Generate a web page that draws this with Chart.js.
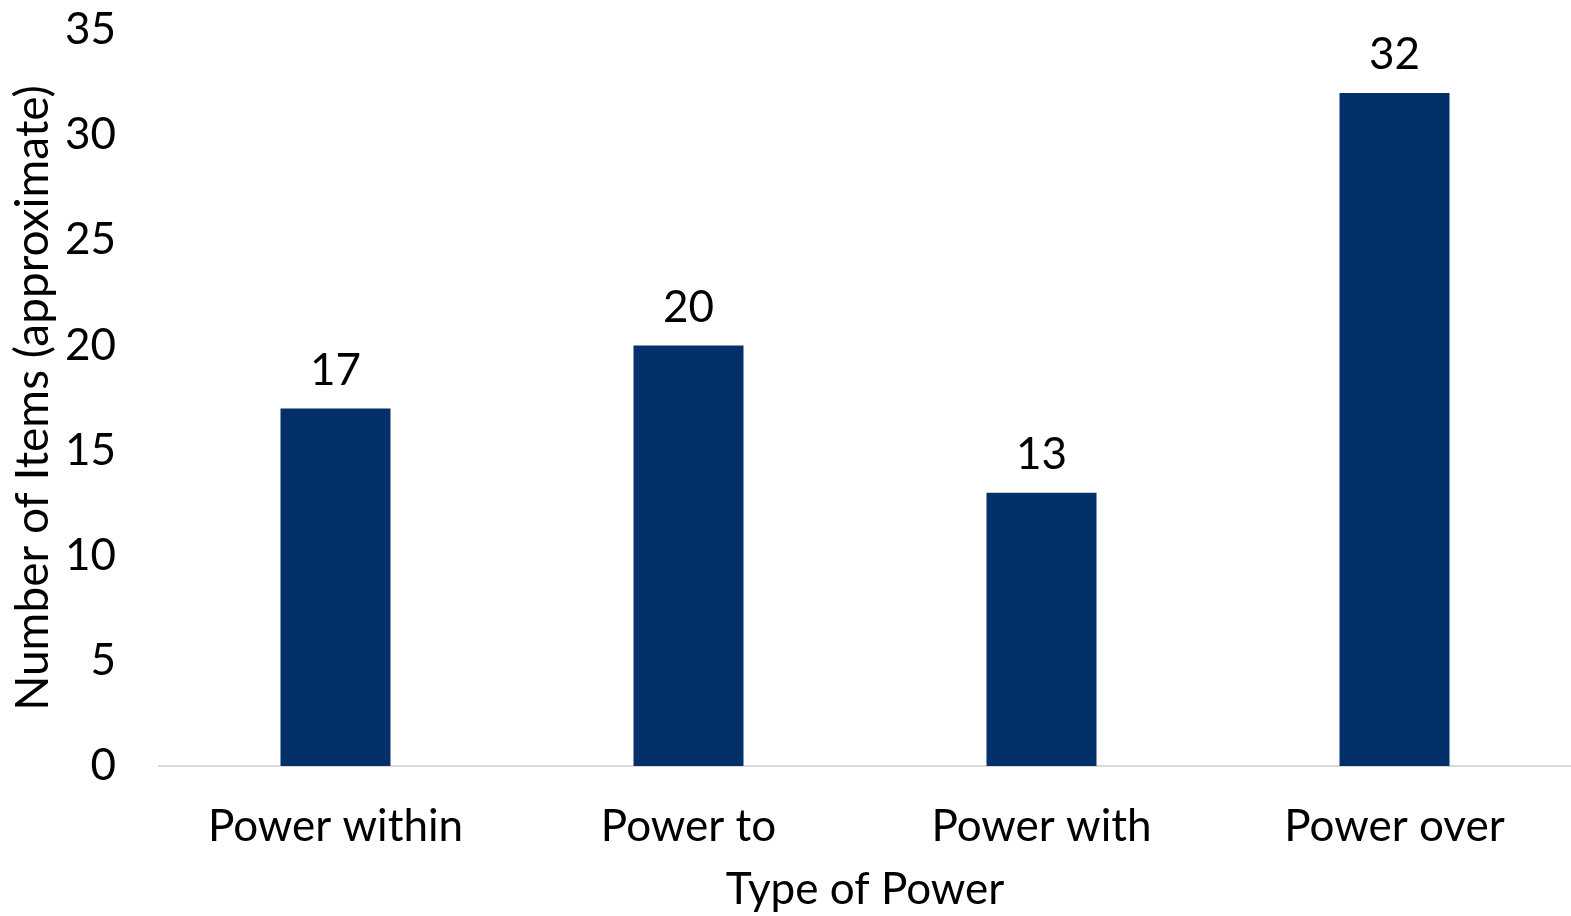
<!DOCTYPE html>
<html>
<head>
<meta charset="utf-8">
<script src="https://cdn.jsdelivr.net/npm/chart.js@4/dist/chart.umd.min.js"></script>
<style>
html,body{margin:0;padding:0;background:#fff;}
#wrap{width:1571px;height:916px;}
</style>
</head>
<body>
<div id="wrap"><canvas id="c"></canvas></div>
<script>
const categories = ["Power within", "Power to", "Power with", "Power over"];
const itemCounts = [17, 20, 13, 32];
const yTicks = [0, 5, 10, 15, 20, 25, 30, 35];

const FONT = "Lato, 'Open Sans', sans-serif";

const valueLabels = {
  id: 'valueLabels',
  afterDatasetsDraw(chart) {
    const ctx = chart.ctx;
    const meta = chart.getDatasetMeta(0);
    ctx.save();
    ctx.font = "44px " + FONT;
    ctx.fillStyle = "#000";
    ctx.textAlign = "center";
    ctx.textBaseline = "bottom";
    meta.data.forEach((bar, i) => {
      ctx.fillText(String(itemCounts[i]), bar.x, bar.y - 16);
    });
    ctx.restore();
  }
};

new Chart(document.getElementById('c'), {
  type: 'bar',
  data: {
    labels: categories,
    datasets: [{
      data: itemCounts,
      backgroundColor: '#03306A',
      borderWidth: 0,
      categoryPercentage: 0.3116,
      barPercentage: 1
    }]
  },
  options: {
    responsive: true,
    maintainAspectRatio: false,
    animation: false,
    devicePixelRatio: 1,
    layout: { padding: { top: 30, right: 0, left: 0, bottom: 0 } },
    plugins: { legend: { display: false }, tooltip: { enabled: false } },
    scales: {
      x: {
        grid: { display: false, drawTicks: false },
        border: { display: true, color: '#D9D9D9', width: 2 },
        ticks: { color: '#000', font: { family: FONT, size: 44 }, padding: 34, maxRotation: 0 },
        title: { display: true, text: 'Type of Power', color: '#000', font: { family: FONT, size: 44 }, padding: { top: 0, bottom: 0 } },
        afterFit(s) { s.height = 150; s.paddingLeft = 0; s.paddingRight = 0; }
      },
      y: {
        min: 0, max: 35,
        grid: { display: false, drawTicks: false },
        border: { display: false },
        afterBuildTicks(s) { s.ticks = yTicks.map(v => ({ value: v })); },
        ticks: { color: '#000', font: { family: FONT, size: 44 }, padding: 43 },
        title: { display: true, text: 'Number of Items (approximate)', color: '#000', font: { family: FONT, size: 46 }, padding: { top: 6, bottom: 0 } },
        afterFit(s) { s.width = 159; s.paddingTop = 0; s.paddingBottom = 0; }
      }
    }
  },
  plugins: [valueLabels]
});
</script>
</body>
</html>
